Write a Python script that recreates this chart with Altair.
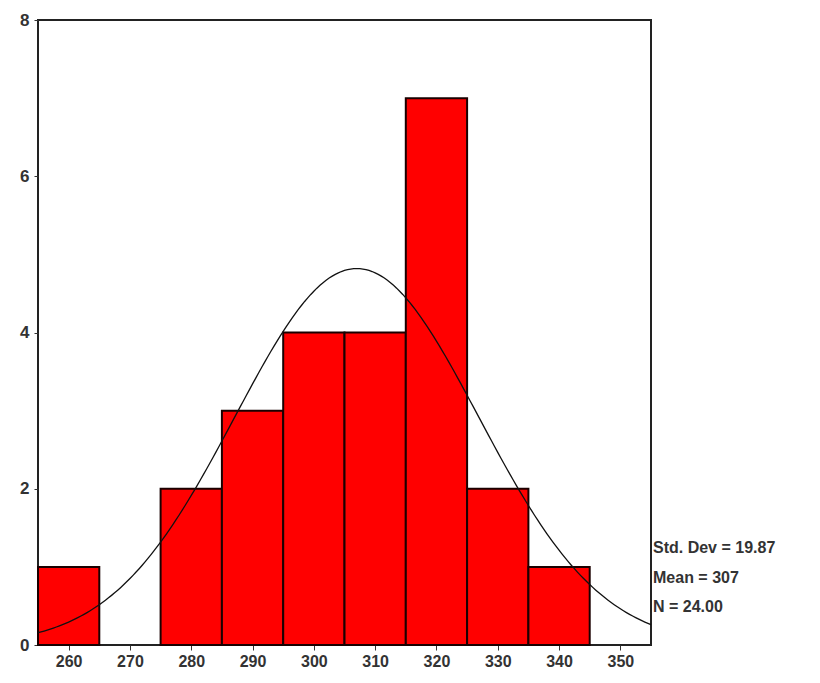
import altair as alt
import pandas as pd

bin_start = [255, 265, 275, 285, 295, 305, 315, 325, 335]
bin_end = [265, 275, 285, 295, 305, 315, 325, 335, 345]
counts = [1, 0, 2, 3, 4, 4, 7, 2, 1]
x_ticks = [260, 270, 280, 290, 300, 310, 320, 330, 340, 350]
y_ticks = [0, 2, 4, 6, 8]
stat_labels = ["Std. Dev = 19.87", "Mean = 307", "N = 24.00"]
stat_y = [1.24, 0.86, 0.49]
mean_val = 307
sd_val = 19.87
n_val = 24
bin_width = 10

bars_df = pd.DataFrame({"start": bin_start, "end": bin_end, "count": counts})
bars_df = bars_df[bars_df["count"] > 0]
stats_df = pd.DataFrame({"label": stat_labels, "y": stat_y})

FONT = "Liberation Sans"
xscale = alt.Scale(domain=[255, 355], nice=False, zero=False)
yscale = alt.Scale(domain=[0, 8], nice=False)

bars = alt.Chart(bars_df).mark_bar(color="#ff0000", stroke="#1a0000", strokeWidth=2).encode(
    x=alt.X("start:Q", scale=xscale, title=None,
            axis=alt.Axis(values=x_ticks, grid=False, domain=False, tickColor="#333",
                          tickSize=5, labelFontSize=16, labelFont=FONT, labelColor="#333",
                          labelFontWeight="bold", labelPadding=3, format="d")),
    x2="end:Q",
    y=alt.Y("count:Q", scale=yscale, title=None,
            axis=alt.Axis(values=y_ticks, grid=False, domain=False, tickColor="#333",
                          tickSize=4, labelFontSize=17, labelFont=FONT, labelColor="#333",
                          labelFontWeight="bold", labelPadding=5, format="d")),
    y2=alt.datum(0),
)

curve = alt.Chart(alt.sequence(255, 355.5, 0.5, as_="v")).transform_calculate(
    dens=f"{n_val * bin_width} * densityNormal(datum.v, {mean_val}, {sd_val})"
).mark_line(color="#111", strokeWidth=1.3).encode(
    x=alt.X("v:Q", scale=xscale),
    y=alt.Y("dens:Q", scale=yscale),
)

stats = alt.Chart(stats_df).mark_text(
    align="left", baseline="middle", fontSize=16, font=FONT, fontWeight="bold",
    color="#333", dx=2
).encode(
    x=alt.value(613),
    y=alt.Y("y:Q", scale=yscale),
    text="label:N",
)

chart = alt.layer(bars, curve, stats).properties(
    width=613, height=625,
    autosize=alt.AutoSizeParams(type="none"),
    padding={"left": 30, "top": 12, "right": 150, "bottom": 30},
).configure(background="white").configure_view(stroke="#222", strokeWidth=2)

chart.save("out.html", embed_options={"renderer": "svg", "actions": False})
